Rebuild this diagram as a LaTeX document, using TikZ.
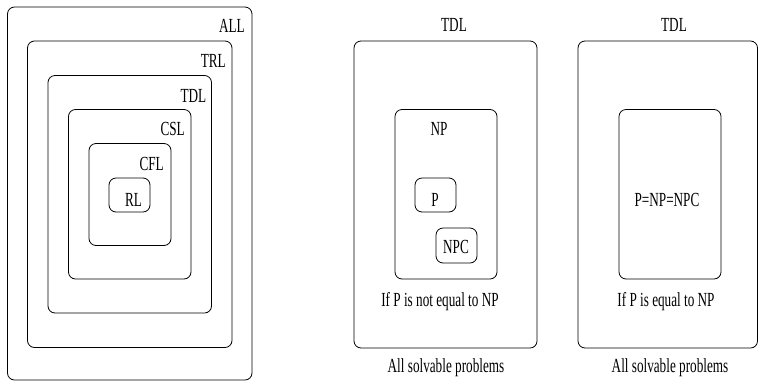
\documentclass[tikz,border=0pt]{standalone}
\usepackage{fontspec}
\setmainfont{Liberation Serif}[FakeStretch=0.66]
\begin{document}
\begin{tikzpicture}[x={(1pt,0)}, y={(0,-1pt)},
  box/.style={draw=black, line width=0.8pt, rounded corners=7pt, rectangle, inner sep=0pt},
  lbl/.style={inner sep=0pt, font=\fontsize{20}{24}\selectfont},
]
\useasboundingbox (0,0) rectangle (759,381);
% left nested sets
\node[box, minimum width=244.5pt, minimum height=373pt]   (all) at (129.75,193.5) {};
\node[box, minimum width=204.5pt, minimum height=306.5pt] (trl) at (129.75,194.25) {};
\node[box, minimum width=163.5pt, minimum height=237.5pt] (tdl) at (129.75,194.25) {};
\node[box, minimum width=122.5pt, minimum height=169.5pt] (csl) at (129.75,194.25) {};
\node[box, minimum width=82pt,    minimum height=102pt]   (cfl) at (130,194.5) {};
\node[box, minimum width=41pt,    minimum height=34pt]    (rl)  at (129.5,195) {};
\node[lbl, anchor=base east] (allL) at (245,32) {ALL};
\node[lbl, anchor=base east] (trlL) at (226,67) {TRL};
\node[lbl, anchor=base east] (tdlL) at (206.5,102) {TDL};
\node[lbl, anchor=base east] (cslL) at (185,135.5) {CSL};
\node[lbl, anchor=base east] (cflL) at (164,170) {CFL};
\node[lbl, anchor=base] (rlL) at (133.5,206) {RL};
% middle: P != NP
\node[box, minimum width=183pt, minimum height=307pt]   (mout) at (445.5,194.5) {};
\node[box, minimum width=102pt, minimum height=169.5pt] (np)   at (446,194.25) {};
\node[box, minimum width=41pt,  minimum height=34pt]    (p)    at (435.5,195) {};
\node[box, minimum width=41pt,  minimum height=35pt]    (npc)  at (456.5,245.5) {};
\node[lbl, anchor=base] (mtdl) at (454,31.5) {TDL};
\node[lbl, anchor=base] (npL)  at (439,135) {NP};
\node[lbl, anchor=base] (pL)   at (435,206) {P};
\node[lbl, anchor=base] (npcL) at (456,253) {NPC};
\node[lbl, anchor=base] (mif)  at (440,306.5) {If P is not equal to NP};
\node[lbl, anchor=base] (mall) at (446,372) {All solvable problems};
% right: P = NP
\node[box, minimum width=179.5pt, minimum height=307pt]  (rout) at (667.75,194.5) {};
\node[box, minimum width=102pt, minimum height=169.5pt]  (rin)  at (670,194.25) {};
\node[lbl, anchor=base] (rtdl) at (674,31.5) {TDL};
\node[lbl, anchor=base] (eqL)  at (667,206) {P=NP=NPC};
\node[lbl, anchor=base] (rif)  at (666,306.5) {If P is equal to NP};
\node[lbl, anchor=base] (rall) at (670,372) {All solvable problems};
\end{tikzpicture}
\end{document}
